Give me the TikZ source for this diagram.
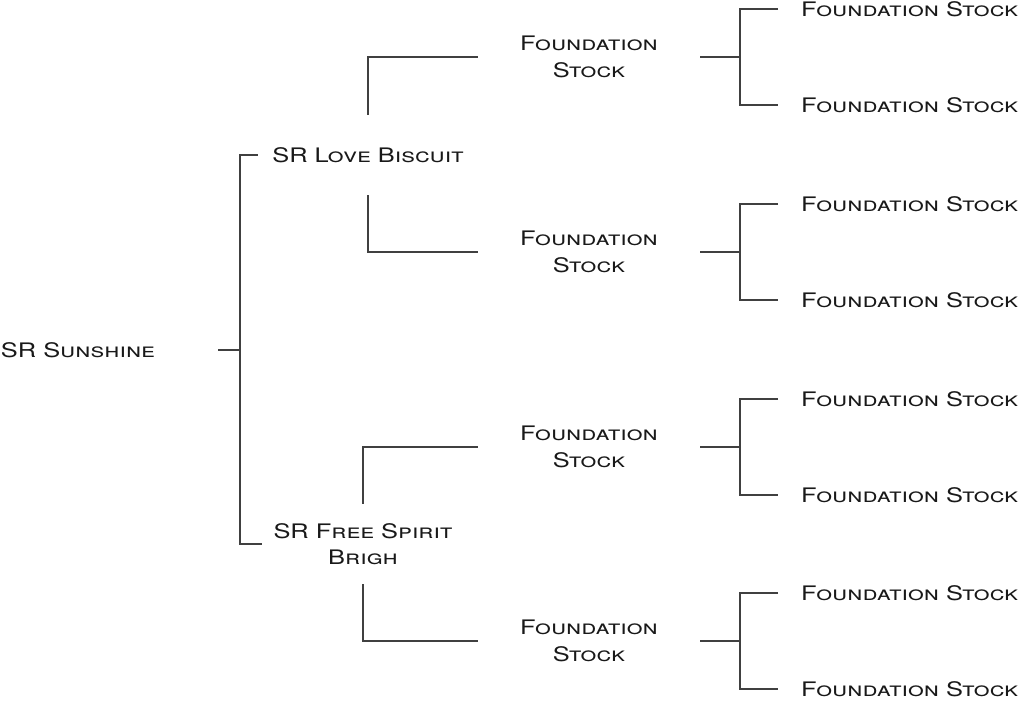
\documentclass[tikz,border=0pt]{standalone}
\usepackage{fontspec}
\setmainfont{TeX Gyre Heros}[FakeStretch=1.27]
\usetikzlibrary{positioning}
\begin{document}
\begin{tikzpicture}[x=1pt,y=-1pt,font=\fontsize{20}{26.5}\selectfont\scshape,
 pedname/.style={align=center,inner sep=0pt,text=black!90},
 mid/.style={pedname,minimum width=222pt,minimum height=56pt},
 leaf/.style={pedname,anchor=west,inner xsep=23pt},
 link/.style={draw=black!75,line width=1.2pt}]
 \useasboundingbox (0,0) rectangle (1023,701);
 \node[pedname,minimum width=280pt] (sun) at (78,350) {SR Sunshine};
 \node[pedname,minimum width=220pt,minimum height=80pt] (love) at (368,155) {SR Love Biscuit};
 \node[pedname,minimum width=202pt,minimum height=80pt] (free) at (363,544) {SR Free Spirit\\Brigh};
 \coordinate (jsun) at (240,350);
 \draw[link] (sun.east) -- (jsun);
 \draw[link] (love.west) -| (jsun) |- (free.west);
 \foreach \i/\y in {1/57,2/252,3/447,4/641}{
 \node[mid] (fs\i) at (589,\y) {Foundation\\Stock};
 \node[leaf] (fs\i a) at (778,\y-48) {Foundation Stock};
 \node[leaf] (fs\i b) at (778,\y+48) {Foundation Stock};
 \coordinate (j\i) at (740,\y);
 \draw[link] (fs\i.east) -- (j\i);
 \draw[link] (fs\i a.west) -| (j\i) |- (fs\i b.west);
 }
 \draw[link] (love.north) |- (fs1.west);
 \draw[link] (love.south) |- (fs2.west);
 \draw[link] (free.north) |- (fs3.west);
 \draw[link] (free.south) |- (fs4.west);
\end{tikzpicture}
\end{document}
